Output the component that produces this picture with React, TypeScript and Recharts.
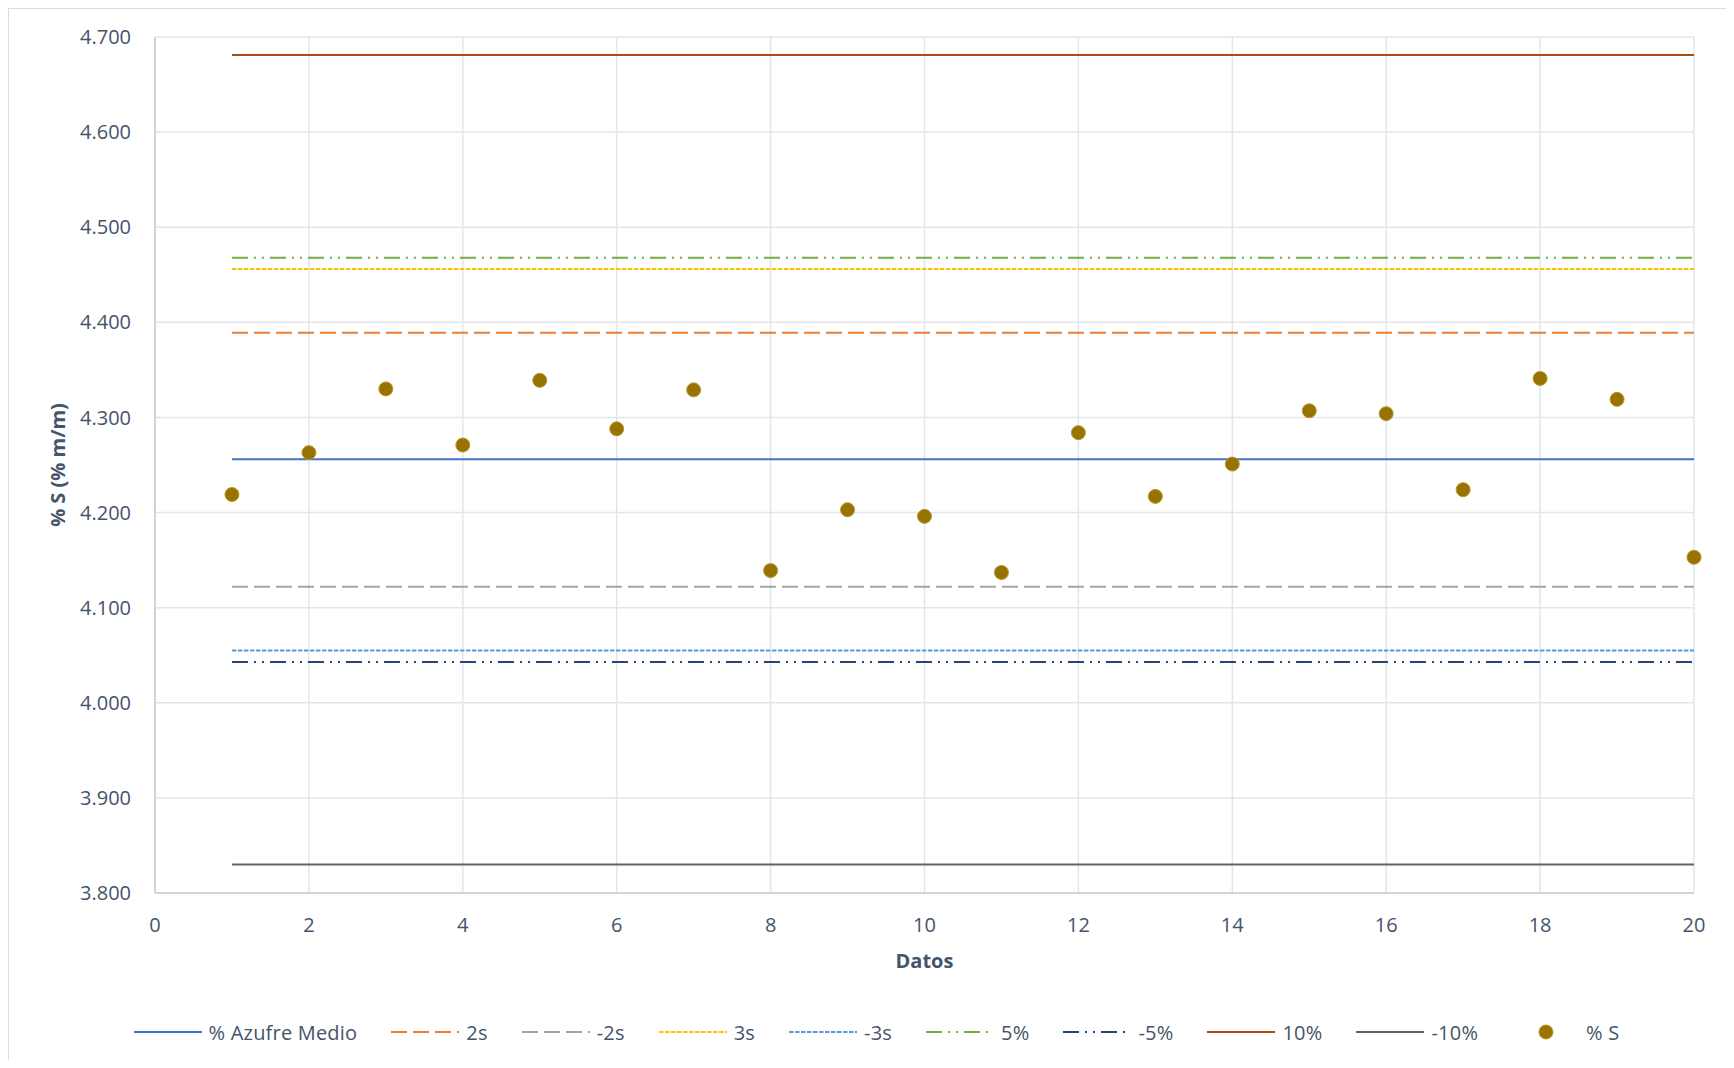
import {
  ComposedChart,
  Line,
  Scatter,
  XAxis,
  YAxis,
  CartesianGrid,
  Legend,
  Label,
} from "recharts";

// datos (x) y % S medido
const datos = [1, 2, 3, 4, 5, 6, 7, 8, 9, 10, 11, 12, 13, 14, 15, 16, 17, 18, 19, 20];
const azufre = [
  4.219, 4.263, 4.33, 4.271, 4.339, 4.288, 4.329, 4.139, 4.203, 4.196,
  4.137, 4.284, 4.217, 4.251, 4.307, 4.304, 4.224, 4.341, 4.319, 4.153,
];

// limites de control
const limiteNombres = ["% Azufre Medio", "2s", "-2s", "3s", "-3s", "5%", "-5%", "10%", "-10%"];
const limiteValores = [4.256, 4.389, 4.122, 4.456, 4.055, 4.468, 4.043, 4.681, 3.83];

const yTicks = [3.8, 3.9, 4.0, 4.1, 4.2, 4.3, 4.4, 4.5, 4.6, 4.7];
const xTicks = [0, 2, 4, 6, 8, 10, 12, 14, 16, 18, 20];

const estilos = [
  { color: "#4472C4", dash: undefined },
  { color: "#ED7D31", dash: "16 6" },
  { color: "#A5A5A5", dash: "16 6" },
  { color: "#FFC000", dash: "4.5 1.5" },
  { color: "#5B9BD5", dash: "4.5 1.5" },
  { color: "#70AD47", dash: "16 6 2 6 2 6" },
  { color: "#264478", dash: "16 6 2 6 2 6" },
  { color: "#A84D13", dash: undefined },
  { color: "#636363", dash: undefined },
];
const puntoColor = "#997300";
const textColor = "#44546A";

const rows = datos.map((x, i) => {
  const r: any = { x, s: azufre[i] };
  limiteValores.forEach((v, j) => {
    r["l" + j] = v;
  });
  return r;
});

const Punto = (props: any) => {
  const { cx, cy } = props;
  if (cx == null || cy == null) return null;
  return <circle cx={cx} cy={cy} r={7} fill={puntoColor} stroke="#B8962E" strokeWidth={1} />;
};

const CustomLegend = () => (
  <div
    style={{
      display: "flex",
      justifyContent: "center",
      alignItems: "center",
      height: 40,
      paddingLeft: 50,
      fontSize: 20,
      color: textColor,
      letterSpacing: 0.2,
    }}
  >
    {limiteNombres.map((n, i) => (
      <div key={n} style={{ display: "flex", alignItems: "center", marginRight: 34 }}>
        <svg width={68} height={10}>
          <line
            x1={0}
            x2={68}
            y1={5}
            y2={5}
            stroke={estilos[i].color}
            strokeWidth={2}
            strokeDasharray={estilos[i].dash}
          />
        </svg>
        <span style={{ marginLeft: 7 }}>{n}</span>
      </div>
    ))}
    <div style={{ display: "flex", alignItems: "center" }}>
      <svg width={68} height={16}>
        <circle cx={34} cy={8} r={7} fill={puntoColor} stroke="#B8962E" strokeWidth={1} />
      </svg>
      <span style={{ marginLeft: 6 }}>% S</span>
    </div>
  </div>
);

export default function App() {
  return (
    <div
      style={{
        position: "relative",
        width: 1724,
        height: 1052,
        boxSizing: "border-box",
        borderTop: "1px solid #D9DDE3",
        borderLeft: "1px solid #D9DDE3",
        borderRight: "1px solid #D9DDE3",
        background: "#fff",
        fontFamily: "'Open Sans', sans-serif",
      }}
    >
      <ComposedChart
        width={1722}
        height={1051}
        data={rows}
        margin={{ top: 28, right: 37, left: 0, bottom: 8 }}
      >
        <CartesianGrid stroke="#E2E6EC" strokeWidth={1.5} />
        <XAxis
          dataKey="x"
          type="number"
          domain={[0, 20]}
          ticks={xTicks}
          height={119}
          tickSize={0}
          tickMargin={25}
          tick={{ fontSize: 20, fill: textColor }}
          axisLine={{ stroke: "#C5CCD7", strokeWidth: 1.5 }}
          tickLine={false}
        >
          <Label
            content={({ viewBox }: any) => (
              <text
                x={viewBox.x + viewBox.width / 2}
                y={viewBox.y + 75}
                textAnchor="middle"
                fontSize={20}
                fontWeight="bold"
                fill={textColor}
              >
                Datos
              </text>
            )}
          />
        </XAxis>
        <YAxis
          type="number"
          domain={[3.8, 4.7]}
          ticks={yTicks}
          width={146}
          tickSize={0}
          tickMargin={24}
          tickFormatter={(v: number) => v.toFixed(3)}
          tick={{ fontSize: 20, fill: textColor }}
          axisLine={{ stroke: "#C5CCD7", strokeWidth: 1.5 }}
          tickLine={false}
        >
          <Label
            content={({ viewBox }: any) => {
              const cx = viewBox.x + 48;
              const cy = viewBox.y + viewBox.height / 2;
              return (
                <text
                  x={cx}
                  y={cy}
                  textAnchor="middle"
                  dominantBaseline="central"
                  transform={`rotate(-90, ${cx}, ${cy})`}
                  fontSize={20}
                  fontWeight="bold"
                  fill={textColor}
                >
                  % S (% m/m)
                </text>
              );
            }}
          />
        </YAxis>
        {limiteNombres.map((n, i) => (
          <Line
            key={n}
            type="linear"
            dataKey={"l" + i}
            name={n}
            stroke={estilos[i].color}
            strokeWidth={2}
            strokeDasharray={estilos[i].dash}
            dot={false}
            activeDot={false}
            isAnimationActive={false}
          />
        ))}
        <Scatter dataKey="s" name="% S" fill={puntoColor} shape={<Punto />} isAnimationActive={false} />
        <Legend verticalAlign="bottom" content={<CustomLegend />} />
      </ComposedChart>
    </div>
  );
}
